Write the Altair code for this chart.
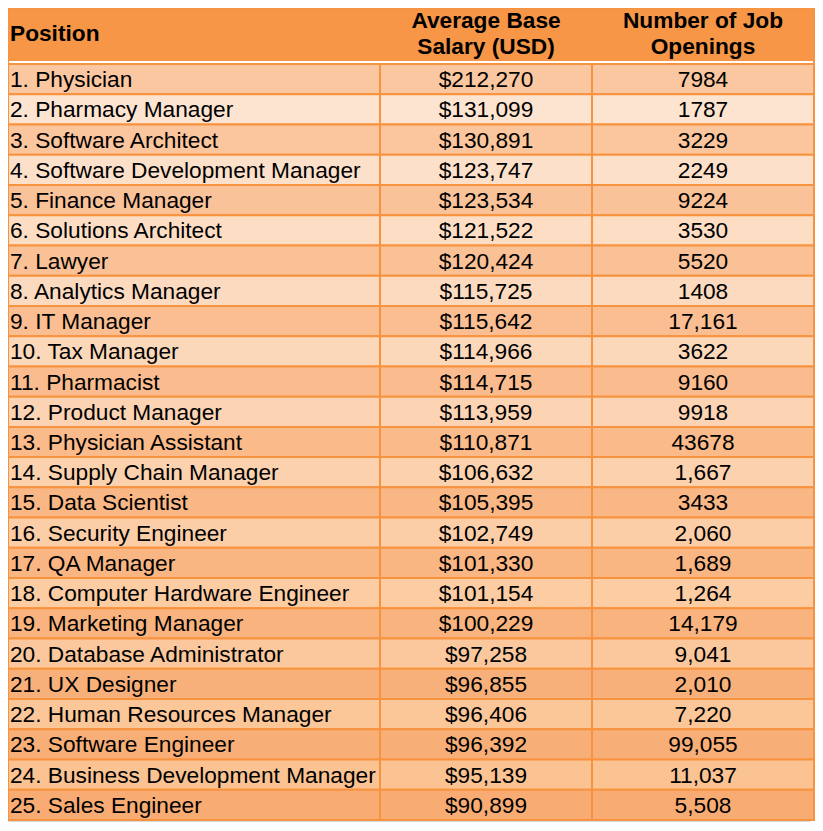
import altair as alt
import pandas as pd

positions = [
    "1. Physician", "2. Pharmacy Manager", "3. Software Architect",
    "4. Software Development Manager", "5. Finance Manager", "6. Solutions Architect",
    "7. Lawyer", "8. Analytics Manager", "9. IT Manager", "10. Tax Manager",
    "11. Pharmacist", "12. Product Manager", "13. Physician Assistant",
    "14. Supply Chain Manager", "15. Data Scientist", "16. Security Engineer",
    "17. QA Manager", "18. Computer Hardware Engineer", "19. Marketing Manager",
    "20. Database Administrator", "21. UX Designer", "22. Human Resources Manager",
    "23. Software Engineer", "24. Business Development Manager", "25. Sales Engineer",
]
salaries = [
    "$212,270", "$131,099", "$130,891", "$123,747", "$123,534", "$121,522",
    "$120,424", "$115,725", "$115,642", "$114,966", "$114,715", "$113,959",
    "$110,871", "$106,632", "$105,395", "$102,749", "$101,330", "$101,154",
    "$100,229", "$97,258", "$96,855", "$96,406", "$96,392", "$95,139", "$90,899",
]
openings = [
    "7984", "1787", "3229", "2249", "9224", "3530", "5520", "1408", "17,161",
    "3622", "9160", "9918", "43678", "1,667", "3433", "2,060", "1,689", "1,264",
    "14,179", "9,041", "2,010", "7,220", "99,055", "11,037", "5,508",
]
headers = ["Position", "Average Base\nSalary (USD)", "Number of Job\nOpenings"]

# ---- layout (page pixels) ----
col_edges = [8, 380, 592, 814]
header_top, header_bot = 8, 61
rows_top, rows_bot = 64, 820
n = len(positions)
rh = (rows_bot - rows_top) / n
FONT = "Liberation Sans, Arial, Helvetica, sans-serif"
FS = 22.7
HEAD = "#F79646"
LINE = "#F7923F"

def mix(a, b, t):
    return "#%02x%02x%02x" % tuple(round(a[k] + (b[k] - a[k]) * t) for k in range(3))

odd_top, odd_bot = (251, 199, 161), (248, 172, 115)
even_top, even_bot = (253, 229, 211), (251, 193, 143)

cells, texts = [], []
for i in range(n):
    t = i / (n - 1)
    fill = mix(odd_top, odd_bot, t) if i % 2 == 0 else mix(even_top, even_bot, t)
    y0 = rows_top + i * rh
    y1 = y0 + rh
    vals = [positions[i], salaries[i], openings[i]]
    for c in range(3):
        cells.append(dict(x=col_edges[c], x2=col_edges[c + 1], y=y0, y2=y1, fill=fill))
        tx = col_edges[0] + 2 if c == 0 else (col_edges[c] + col_edges[c + 1]) / 2
        texts.append(dict(x=tx, y=(y0 + y1) / 2 + 1, text=vals[c], col=c))

cells_df = pd.DataFrame(cells)
texts_df = pd.DataFrame(texts)

head_texts = []
for c, h in enumerate(headers):
    lines = h.split("\n")
    tx = col_edges[0] + 2 if c == 0 else (col_edges[c] + col_edges[c + 1]) / 2
    if len(lines) == 1:
        head_texts.append(dict(x=tx, y=34, text=lines[0], col=c))
    else:
        head_texts.append(dict(x=tx, y=21, text=lines[0], col=c))
        head_texts.append(dict(x=tx, y=47, text=lines[1], col=c))
head_df = pd.DataFrame(head_texts)

frame_df = pd.DataFrame([
    dict(part="shadow", x=4, x2=812, y=11, y2=822, fill="#d0d0d0"),
    dict(part="header", x=col_edges[0], x2=col_edges[-1], y=header_top, y2=header_bot, fill=HEAD),
    dict(part="gap", x=col_edges[0], x2=col_edges[-1], y=header_bot, y2=rows_top, fill="#ffffff"),
])

xs = alt.Scale(domain=[8, 815], range=[0, 807], nice=False, zero=False)
ys = alt.Scale(domain=[8, 822], range=[0, 814], nice=False, zero=False)

def X(f="x"):
    return alt.X(f"{f}:Q", scale=xs, axis=None)

def Y(f="y"):
    return alt.Y(f"{f}:Q", scale=ys, axis=None)

shadow = alt.Chart(frame_df).transform_filter("datum.part == 'shadow'").mark_rect(
    opacity=0.8, cornerRadius=3
).encode(x=X(), x2="x2:Q", y=Y(), y2="y2:Q", fill=alt.Fill("fill:N", scale=None))

head = alt.Chart(frame_df).transform_filter("datum.part != 'shadow'").mark_rect().encode(
    x=X(), x2="x2:Q", y=Y(), y2="y2:Q", fill=alt.Fill("fill:N", scale=None)
)

cell_marks = alt.Chart(cells_df).mark_rect(stroke=LINE, strokeWidth=2).encode(
    x=X(), x2="x2:Q", y=Y(), y2="y2:Q", fill=alt.Fill("fill:N", scale=None)
)

outer = alt.Chart(pd.DataFrame([dict(x=col_edges[0], x2=col_edges[-1], y=header_top, y2=rows_bot)])).mark_rect(
    fill=None, stroke=LINE, strokeWidth=2
).encode(x=X(), x2="x2:Q", y=Y(), y2="y2:Q")

txt_left = alt.Chart(texts_df).transform_filter("datum.col == 0").mark_text(
    align="left", baseline="middle", font=FONT, fontSize=FS, color="#000000"
).encode(x=X(), y=Y(), text="text:N")

txt_center = alt.Chart(texts_df).transform_filter("datum.col > 0").mark_text(
    align="center", baseline="middle", font=FONT, fontSize=FS, color="#000000"
).encode(x=X(), y=Y(), text="text:N")

h_left = alt.Chart(head_df).transform_filter("datum.col == 0").mark_text(
    align="left", baseline="middle", font=FONT, fontSize=FS, fontWeight="bold", color="#000000"
).encode(x=X(), y=Y(), text="text:N")

h_center = alt.Chart(head_df).transform_filter("datum.col > 0").mark_text(
    align="center", baseline="middle", font=FONT, fontSize=FS, fontWeight="bold", color="#000000"
).encode(x=X(), y=Y(), text="text:N")

chart = alt.layer(
    shadow, head, cell_marks, outer, txt_left, txt_center, h_left, h_center
).properties(
    width=807, height=814, autosize=alt.AutoSizeParams(type="none"), padding=0
).configure_view(stroke=None)

chart.save("out.html", embed_options={"renderer": "svg", "actions": False})
